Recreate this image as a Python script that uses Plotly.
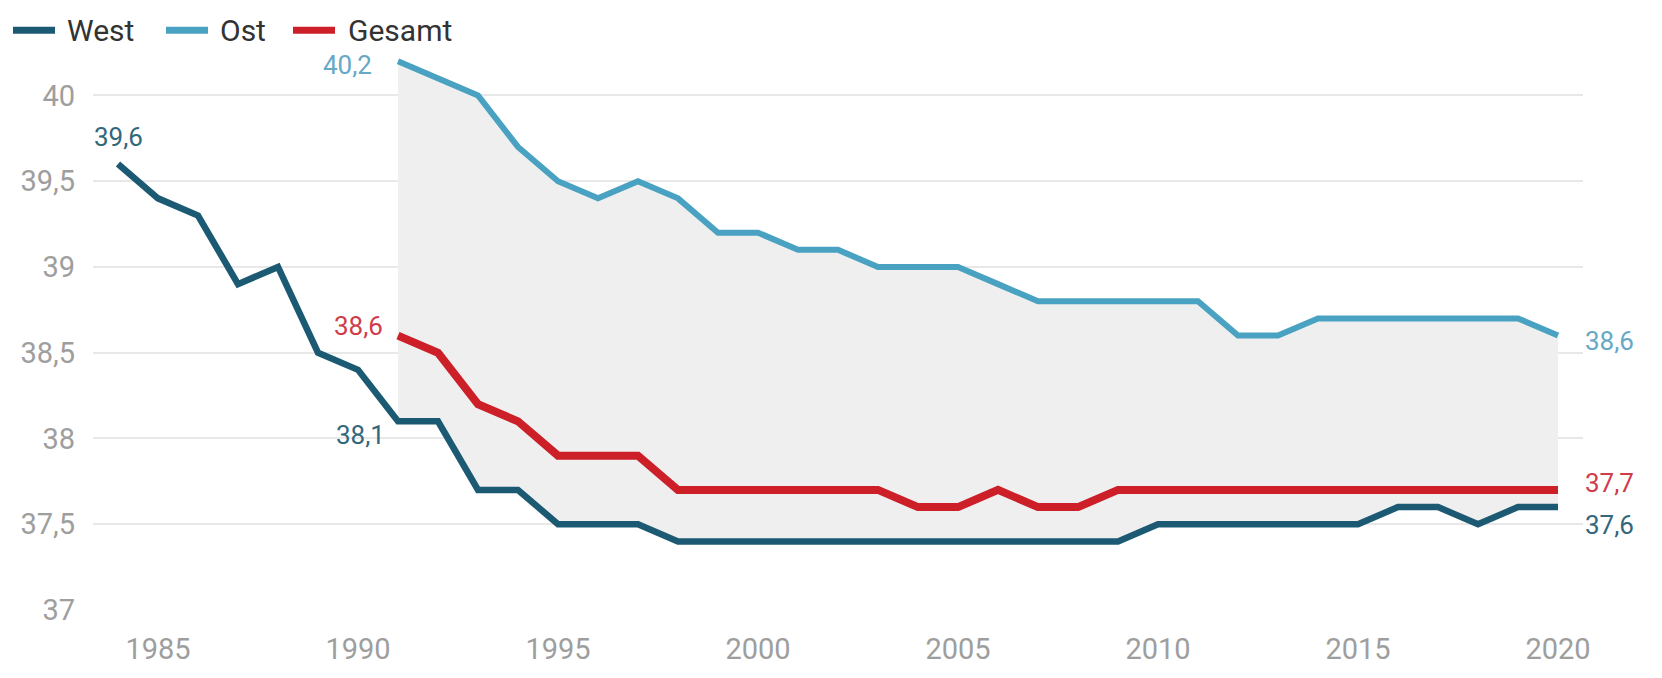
import plotly.graph_objects as go

# Wöchentliche Arbeitszeit (Stunden), West seit 1984, Ost und Gesamt seit 1991
years_west = list(range(1984, 2021))
west = [39.6, 39.4, 39.3, 38.9, 39.0, 38.5, 38.4, 38.1, 38.1, 37.7,
        37.7, 37.5, 37.5, 37.5, 37.4, 37.4, 37.4, 37.4, 37.4, 37.4,
        37.4, 37.4, 37.4, 37.4, 37.4, 37.4, 37.5, 37.5, 37.5, 37.5,
        37.5, 37.5, 37.6, 37.6, 37.5, 37.6, 37.6]

years_ost = list(range(1991, 2021))
ost = [40.2, 40.1, 40.0, 39.7, 39.5, 39.4, 39.5, 39.4, 39.2, 39.2,
       39.1, 39.1, 39.0, 39.0, 39.0, 38.9, 38.8, 38.8, 38.8, 38.8,
       38.8, 38.6, 38.6, 38.7, 38.7, 38.7, 38.7, 38.7, 38.7, 38.6]

years_gesamt = list(range(1991, 2021))
gesamt = [38.6, 38.5, 38.2, 38.1, 37.9, 37.9, 37.9, 37.7, 37.7, 37.7,
          37.7, 37.7, 37.7, 37.6, 37.6, 37.7, 37.6, 37.6, 37.7, 37.7,
          37.7, 37.7, 37.7, 37.7, 37.7, 37.7, 37.7, 37.7, 37.7, 37.7]

x_tickvals = [1985, 1990, 1995, 2000, 2005, 2010, 2015, 2020]
x_ticktext = ["1985", "1990", "1995", "2000", "2005", "2010", "2015", "2020"]
y_tickvals = [37, 37.5, 38, 38.5, 39, 39.5, 40]
y_ticktext = ["37", "37,5", "38", "38,5", "39", "39,5", "40"]

series_names = ["West", "Ost", "Gesamt"]

C_WEST = "#1c5a74"
C_OST = "#4aa2c2"
C_GES = "#cc1f27"
T_WEST = "#33677c"
T_OST = "#67a8c6"
T_GES = "#cf3c4a"
FONT = "Roboto"

W, H = 1662, 678
ML, MR, MT, MB = 93, 79, 44, 56


def de(v):
    return f"{v:.1f}".replace(".", ",")


fig = go.Figure()

# shaded band between Ost and West where both series exist
i0 = years_west.index(years_ost[0])
fig.add_trace(go.Scatter(x=years_west[i0:], y=west[i0:], mode="lines",
                         line=dict(width=0, color="rgba(0,0,0,0)"),
                         showlegend=False, hoverinfo="skip"))
fig.add_trace(go.Scatter(x=years_ost, y=ost, mode="lines", fill="tonexty",
                         fillcolor="#efefef", line=dict(width=0, color="rgba(0,0,0,0)"),
                         showlegend=False, hoverinfo="skip"))

fig.add_trace(go.Scatter(x=years_ost, y=ost, mode="lines", name="Ost",
                         line=dict(color=C_OST, width=6), showlegend=False))
fig.add_trace(go.Scatter(x=years_west, y=west, mode="lines", name="West",
                         line=dict(color=C_WEST, width=6.5), showlegend=False))
fig.add_trace(go.Scatter(x=years_gesamt, y=gesamt, mode="lines", name="Gesamt",
                         line=dict(color=C_GES, width=8), showlegend=False))

ann = []
lab_font = dict(family=FONT, size=26)

# start labels
ann.append(dict(x=years_west[0], y=west[0], text=de(west[0]), xanchor="center",
                yanchor="middle", yshift=27, font=dict(lab_font, color=T_WEST)))
ann.append(dict(x=years_ost[0], y=ost[0], text=de(ost[0]), xanchor="right",
                yanchor="middle", xshift=-24, yshift=-4, font=dict(lab_font, color=T_OST)))
ann.append(dict(x=years_gesamt[0], y=gesamt[0], text=de(gesamt[0]), xanchor="right",
                yanchor="middle", xshift=-13, yshift=10, font=dict(lab_font, color=T_GES)))
ann.append(dict(x=years_ost[0], y=west[i0], text=de(west[i0]), xanchor="right",
                yanchor="middle", xshift=-11, yshift=-14, font=dict(lab_font, color=T_WEST)))

# end labels
ann.append(dict(x=years_ost[-1], y=ost[-1], text=de(ost[-1]), xanchor="left",
                yanchor="middle", xshift=25, yshift=-5, font=dict(lab_font, color=T_OST)))
ann.append(dict(x=years_gesamt[-1], y=gesamt[-1], text=de(gesamt[-1]), xanchor="left",
                yanchor="middle", xshift=25, yshift=7, font=dict(lab_font, color=T_GES)))
ann.append(dict(x=years_west[-1], y=west[-1], text=de(west[-1]), xanchor="left",
                yanchor="middle", xshift=25, yshift=-18, font=dict(lab_font, color=T_WEST)))

for a in ann:
    a.update(xref="x", yref="y", showarrow=False)

# legend row drawn above the plot area
pw, ph = W - ML - MR, H - MT - MB


def px_x(px):
    return (px - ML) / pw


def px_y(py):
    return (H - MB - py) / ph


legend_items = [(series_names[0], C_WEST, 13, 55, 65),
                (series_names[1], C_OST, 166, 208, 218),
                (series_names[2], C_GES, 293, 335, 346)]
shapes = []
for name, col, x0, x1, tx in legend_items:
    shapes.append(dict(type="line", xref="paper", yref="paper",
                       x0=px_x(x0), x1=px_x(x1), y0=px_y(30), y1=px_y(30),
                       line=dict(color=col, width=7)))
    ann.append(dict(xref="paper", yref="paper", x=px_x(tx), y=px_y(30), text=name,
                    xanchor="left", yanchor="middle", showarrow=False,
                    font=dict(family=FONT, size=30, color="#333333")))

fig.update_layout(
    width=W, height=H,
    margin=dict(l=ML, r=MR, t=MT, b=MB),
    paper_bgcolor="white", plot_bgcolor="white",
    showlegend=False,
    annotations=ann,
    shapes=shapes,
    xaxis=dict(range=[1983.375, 2020.625], tickvals=x_tickvals, ticktext=x_ticktext,
               showgrid=False, zeroline=False, showline=False, ticks="",
               ticklabelstandoff=19,
               tickfont=dict(family=FONT, size=29, color="#9e9e9e")),
    yaxis=dict(range=[37, 40.3], tickvals=y_tickvals, ticktext=y_ticktext,
               showgrid=True, gridcolor="#e8e8e8", gridwidth=2,
               zeroline=False, showline=False, ticks="",
               ticklabelstandoff=17,
               tickfont=dict(family=FONT, size=29, color="#9e9e9e")),
    hovermode=False,
)

fig.write_html("out.html")
